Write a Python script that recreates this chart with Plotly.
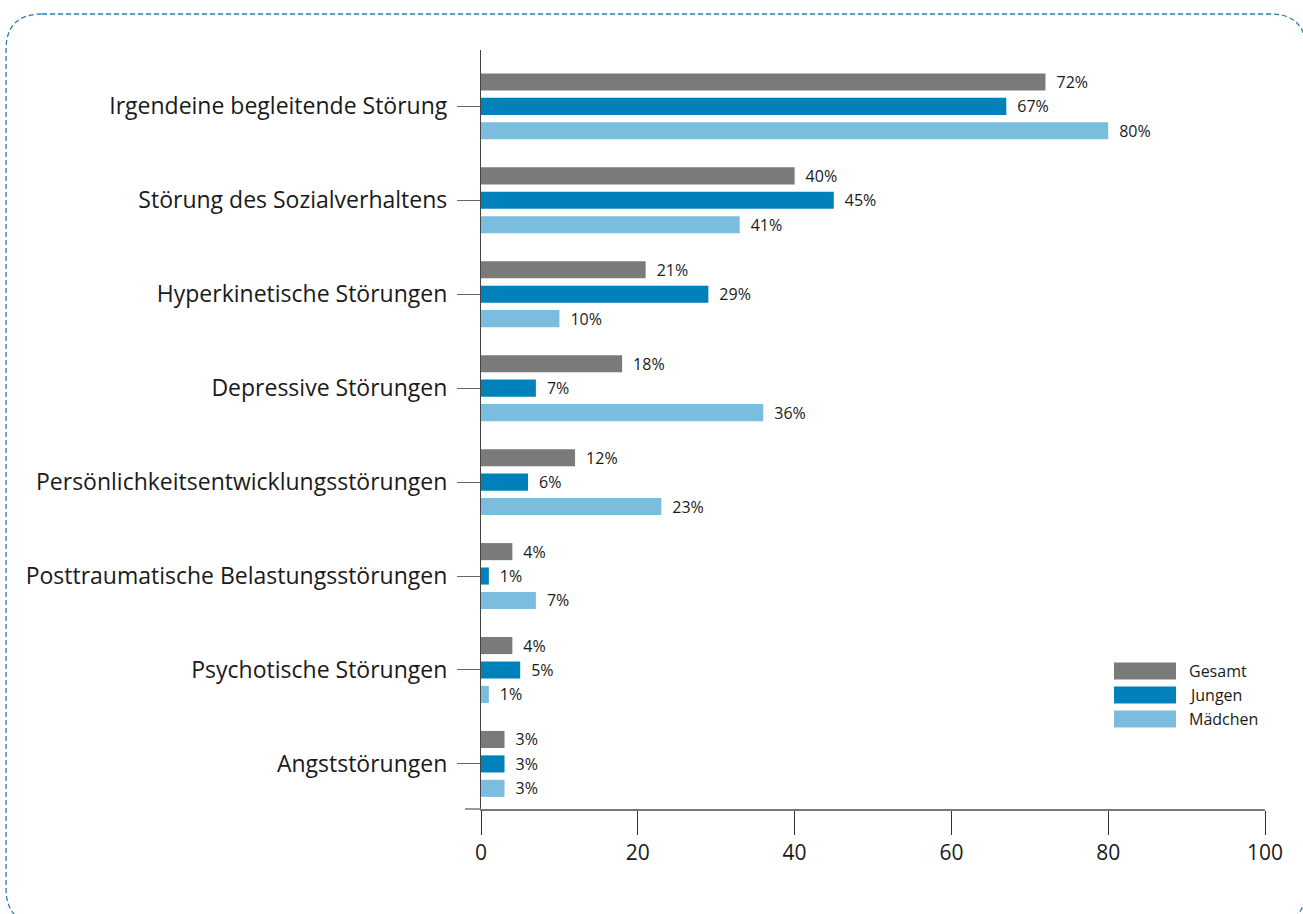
import plotly.graph_objects as go

categories = [
    "Irgendeine begleitende Störung",
    "Störung des Sozialverhaltens",
    "Hyperkinetische Störungen",
    "Depressive Störungen",
    "Persönlichkeitsentwicklungsstörungen",
    "Posttraumatische Belastungsstörungen",
    "Psychotische Störungen",
    "Angststörungen",
]
series_names = ["Gesamt", "Jungen", "Mädchen"]
# bar lengths as drawn in the picture
gesamt = [72, 40, 21, 18, 12, 4, 4, 3]
jungen = [67, 45, 29, 7, 6, 1, 5, 3]
maedchen = [80, 33, 10, 36, 23, 7, 1, 3]
# value labels as printed in the picture
gesamt_labels = [72, 40, 21, 18, 12, 4, 4, 3]
jungen_labels = [67, 45, 29, 7, 6, 1, 5, 3]
maedchen_labels = [80, 41, 10, 36, 23, 7, 1, 3]
x_ticks = [0, 20, 40, 60, 80, 100]

colors = ["#7a7a7a", "#0081ba", "#7bbddf"]
FONT = "Open Sans"

W, H = 1303, 914
L, R, T, B = 481, 1265, 50, 809


def px(x):
    return (x - L) / (R - L)


def py(y):
    return (B - y) / (B - T)


fig = go.Figure()
for name, vals, labs, col in zip(series_names,
                                 [gesamt, jungen, maedchen],
                                 [gesamt_labels, jungen_labels, maedchen_labels],
                                 colors):
    fig.add_trace(go.Bar(
        y=categories, x=vals, orientation="h", name=name,
        marker=dict(color=col, line=dict(width=0)),
        text=[f"\u2002{v}%" for v in labs], textposition="outside",
        textfont=dict(family=FONT, size=16, color="#1a1a1a"),
        constraintext="none", cliponaxis=False, showlegend=False,
    ))

shapes = []
# x-axis line extension to the left
shapes.append(dict(type="line", xref="paper", yref="paper",
                   x0=px(465), x1=px(481), y0=0, y1=0,
                   line=dict(color="#777777", width=1.5)))
# dashed rounded border
r = 36
x0b, y0b, x1b, y1b = 6, 14, 1306, 924
path = (f"M {px(x0b + r)},{py(y0b)} L {px(x1b - r)},{py(y0b)} "
        f"Q {px(x1b)},{py(y0b)} {px(x1b)},{py(y0b + r)} "
        f"L {px(x1b)},{py(y1b - r)} Q {px(x1b)},{py(y1b)} {px(x1b - r)},{py(y1b)} "
        f"L {px(x0b + r)},{py(y1b)} Q {px(x0b)},{py(y1b)} {px(x0b)},{py(y1b - r)} "
        f"L {px(x0b)},{py(y0b + r)} Q {px(x0b)},{py(y0b)} {px(x0b + r)},{py(y0b)} Z")
shapes.append(dict(type="path", xref="paper", yref="paper", path=path,
                   line=dict(color="#2a7fa6", width=1.3, dash="5px,3px"),
                   layer="below"))

annotations = []
# custom legend
for i, (name, col) in enumerate(zip(series_names, colors)):
    yc = 671 + i * 24
    shapes.append(dict(type="rect", xref="paper", yref="paper",
                       x0=px(1114), x1=px(1176), y0=py(yc - 8.5), y1=py(yc + 8.5),
                       fillcolor=col, line=dict(width=0)))
    annotations.append(dict(xref="paper", yref="paper", x=px(1187), y=py(yc),
                            text=name, showarrow=False, xanchor="left",
                            yanchor="middle",
                            font=dict(family=FONT, size=16, color="#1a1a1a")))

fig.update_layout(
    width=W, height=H,
    margin=dict(l=L, r=W - R, t=T, b=H - B, pad=0),
    plot_bgcolor="white", paper_bgcolor="white",
    barmode="group", bargap=0.22, bargroupgap=0.3,
    shapes=shapes, annotations=annotations,
    xaxis=dict(range=[0, 100], tickvals=x_ticks, showgrid=False, zeroline=False,
               showline=True, linecolor="#777777", linewidth=1.5,
               ticks="outside", ticklen=24, tickcolor="#333333", tickwidth=1.2,
               tickfont=dict(family=FONT, size=21, color="#1a1a1a")),
    yaxis=dict(range=[7.48, -0.6], showgrid=False, zeroline=False,
               showline=True, linecolor="#444444", linewidth=1.2,
               ticks="outside", ticklen=23, tickcolor="#666666", tickwidth=1.2,
               ticklabelstandoff=5,
               tickfont=dict(family=FONT, size=23, color="#1a1a1a")),
    font=dict(family=FONT),
)

fig.write_html("out.html")
